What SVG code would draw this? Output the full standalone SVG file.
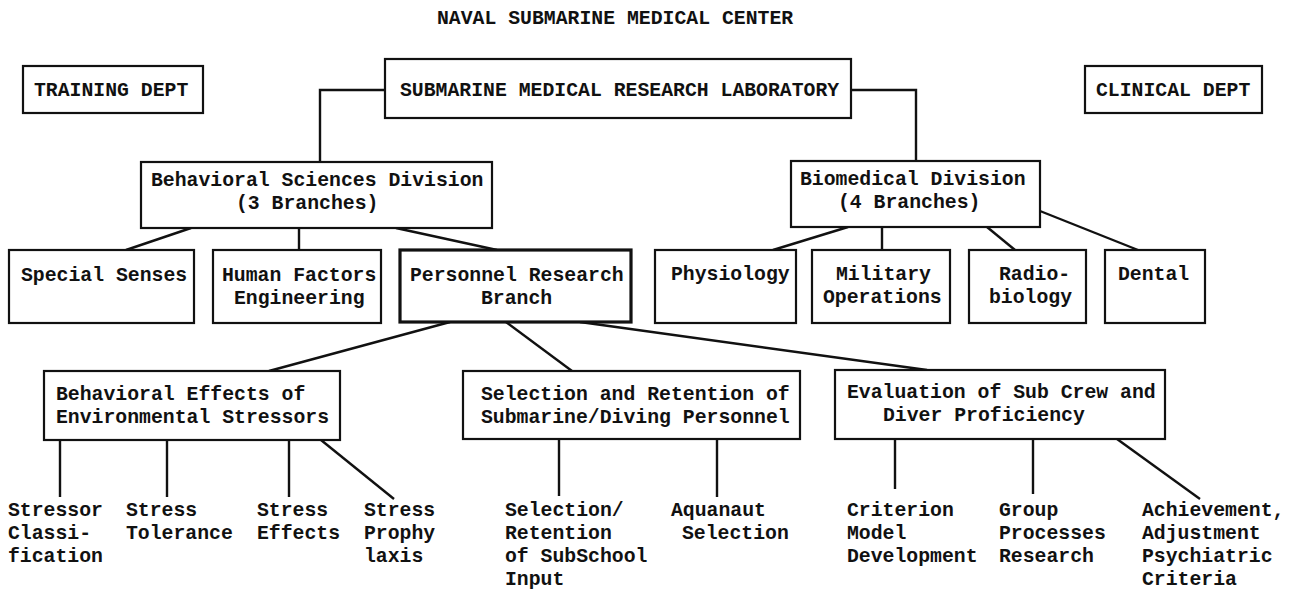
<svg xmlns="http://www.w3.org/2000/svg" width="1295" height="591" viewBox="0 0 1295 591">
<style>
text{font-family:"Liberation Mono","Courier New",monospace;font-size:19.8px;fill:#111}
.c{font-weight:bold}
.b{font-weight:bold}
rect{fill:#fff;stroke:#111;stroke-width:2.2}
.thick{stroke-width:3.2}
#connectors line,#connectors polyline{stroke:#111;stroke-width:2.4;fill:none}
</style>
<rect x="0" y="0" width="1295" height="591" style="stroke:none"/>
<text class="c" x="437" y="24">NAVAL SUBMARINE MEDICAL CENTER</text>
<g id="connectors">
<polyline points="385,90 320,90 320,162"/>
<polyline points="851,90 916,90 916,161"/>
<line x1="191" y1="228" x2="126" y2="250"/>
<line x1="299" y1="228" x2="299" y2="250"/>
<line x1="396" y1="228" x2="497" y2="250"/>
<line x1="848" y1="227" x2="773" y2="250"/>
<line x1="882" y1="227" x2="882" y2="250"/>
<line x1="987" y1="227" x2="1015" y2="250"/>
<line x1="1040" y1="211" x2="1138" y2="250"/>
<line x1="450" y1="322" x2="269" y2="371"/>
<line x1="506" y1="322" x2="572" y2="371"/>
<line x1="580" y1="322" x2="927" y2="370"/>
<line x1="60" y1="440" x2="60" y2="497"/>
<line x1="167" y1="440" x2="167" y2="497"/>
<line x1="289" y1="440" x2="289" y2="497"/>
<line x1="321" y1="440" x2="394" y2="499"/>
<line x1="559" y1="439" x2="559" y2="496"/>
<line x1="717" y1="439" x2="717" y2="497"/>
<line x1="895" y1="439" x2="895" y2="489"/>
<line x1="1033" y1="439" x2="1033" y2="494"/>
<line x1="1117" y1="439" x2="1200" y2="499"/>
</g>
<g id="training"><rect x="23" y="66" width="180" height="47"/><text class="c" x="34" y="96">TRAINING DEPT</text></g>
<g id="smrl"><rect x="385" y="59" width="466" height="59"/><text class="c" x="400" y="96">SUBMARINE MEDICAL RESEARCH LABORATORY</text></g>
<g id="clinical"><rect x="1085" y="66" width="177" height="47"/><text class="c" x="1096" y="96">CLINICAL DEPT</text></g>
<g id="bsd"><rect x="141" y="162" width="351" height="66"/><text class="b" x="151" y="186">Behavioral Sciences Division</text><text class="b" x="236" y="209">(3 Branches)</text></g>
<g id="biomed"><rect x="791" y="161" width="249" height="66"/><text class="b" x="800" y="185">Biomedical Division</text><text class="b" x="838" y="208">(4 Branches)</text></g>
<g id="special"><rect x="9" y="250" width="185" height="73"/><text class="b" x="21" y="281">Special Senses</text></g>
<g id="human"><rect x="213" y="250" width="168" height="73"/><text class="b" x="222" y="281">Human Factors</text><text class="b" x="234" y="304">Engineering</text></g>
<g id="personnel"><rect class="thick" x="400" y="250" width="231" height="72"/><text class="b" x="410" y="281">Personnel Research</text><text class="b" x="481" y="304">Branch</text></g>
<g id="physiology"><rect x="655" y="250" width="141" height="73"/><text class="b" x="671" y="280">Physiology</text></g>
<g id="military"><rect x="812" y="250" width="138" height="73"/><text class="b" x="836" y="280">Military</text><text class="b" x="823" y="303">Operations</text></g>
<g id="radio"><rect x="969" y="250" width="117" height="73"/><text class="b" x="999" y="280">Radio-</text><text class="b" x="989" y="303">biology</text></g>
<g id="dental"><rect x="1105" y="250" width="100" height="73"/><text class="b" x="1118" y="280">Dental</text></g>
<g id="beheffects"><rect x="44" y="371" width="296" height="69"/><text class="b" x="56" y="400">Behavioral Effects of</text><text class="b" x="56" y="423">Environmental Stressors</text></g>
<g id="selection"><rect x="463" y="371" width="337" height="68"/><text class="b" x="481" y="400">Selection and Retention of</text><text class="b" x="481" y="423">Submarine/Diving Personnel</text></g>
<g id="evaluation"><rect x="835" y="370" width="330" height="69"/><text class="b" x="847" y="398">Evaluation of Sub Crew and</text><text class="b" x="883" y="421">Diver Proficiency</text></g>
<g id="stressor"><text class="b" x="8" y="516">Stressor</text><text class="b" x="8" y="539">Classi-</text><text class="b" x="8" y="562">fication</text></g>
<g id="tolerance"><text class="b" x="126" y="516">Stress</text><text class="b" x="126" y="539">Tolerance</text></g>
<g id="effects"><text class="b" x="257" y="516">Stress</text><text class="b" x="257" y="539">Effects</text></g>
<g id="prophylaxis"><text class="b" x="364" y="516">Stress</text><text class="b" x="364" y="539">Prophy</text><text class="b" x="364" y="562">laxis</text></g>
<g id="subschool"><text class="b" x="505" y="516">Selection/</text><text class="b" x="505" y="539">Retention</text><text class="b" x="505" y="562">of SubSchool</text><text class="b" x="505" y="585">Input</text></g>
<g id="aquanaut"><text class="b" x="671" y="516">Aquanaut</text><text class="b" x="682" y="539">Selection</text></g>
<g id="criterion"><text class="b" x="847" y="516">Criterion</text><text class="b" x="847" y="539">Model</text><text class="b" x="847" y="562">Development</text></g>
<g id="group"><text class="b" x="999" y="516">Group</text><text class="b" x="999" y="539">Processes</text><text class="b" x="999" y="562">Research</text></g>
<g id="achievement"><text class="b" x="1142" y="516">Achievement,</text><text class="b" x="1142" y="539">Adjustment</text><text class="b" x="1142" y="562">Psychiatric</text><text class="b" x="1142" y="585">Criteria</text></g>
</svg>
